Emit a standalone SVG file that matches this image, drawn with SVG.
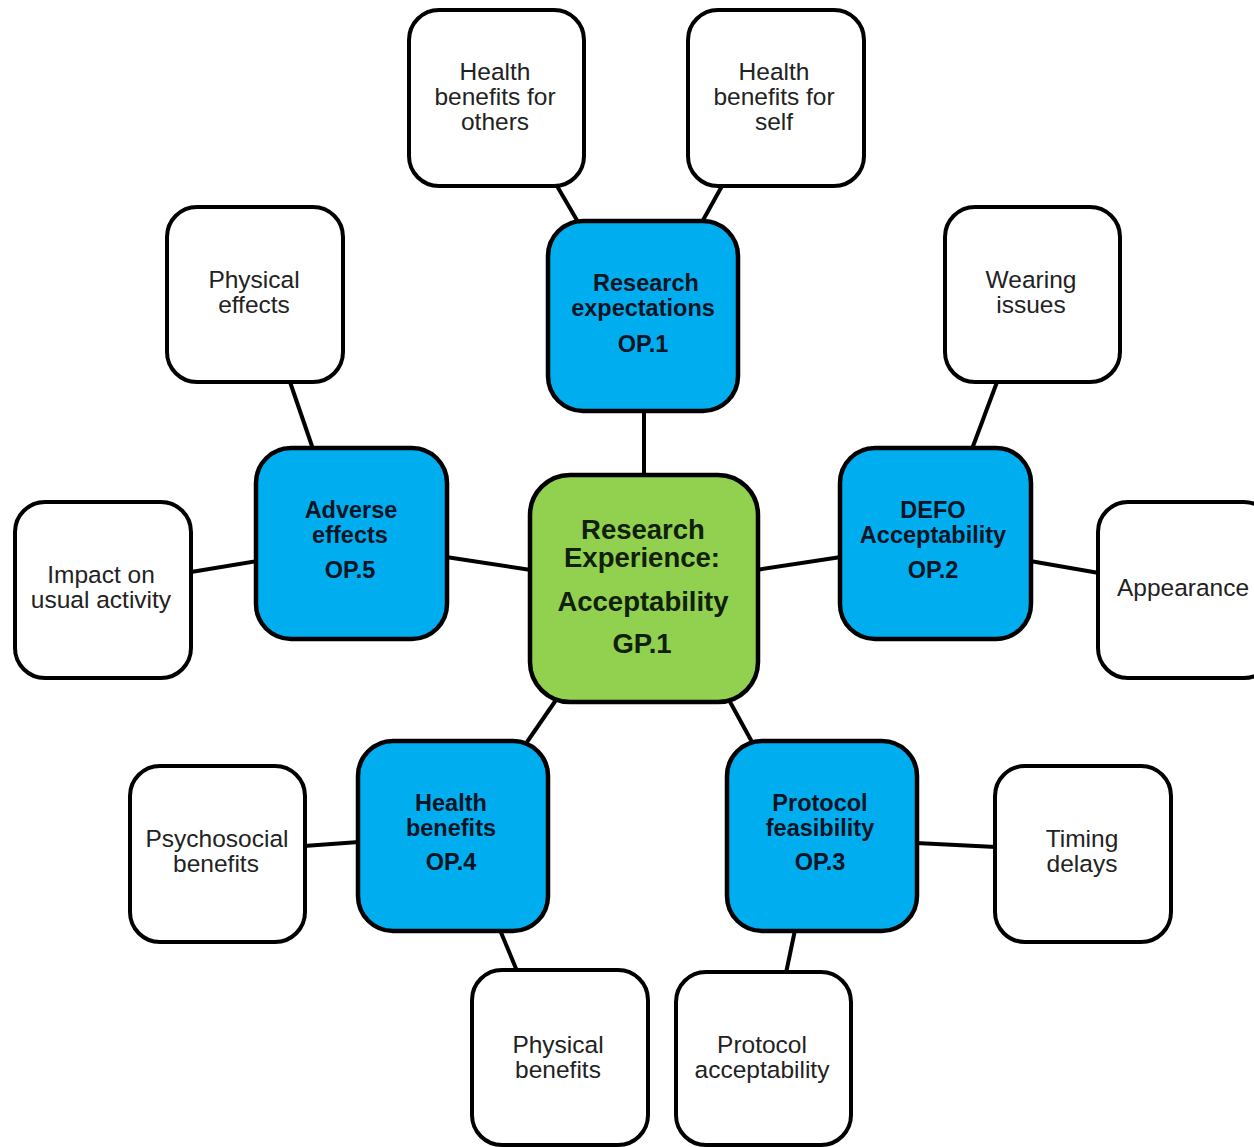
<svg xmlns="http://www.w3.org/2000/svg" width="1254" height="1147" viewBox="0 0 1254 1147">
<style>
.w{fill:#fff;stroke:#000;stroke-width:4}
.b{fill:#00AEEF;stroke:#000;stroke-width:4.5}
.g{fill:#92D050;stroke:#000;stroke-width:4.5}
.c line{stroke:#000;stroke-width:4}
.tw{font-family:"Liberation Sans",Arial,sans-serif;font-size:24.5px;fill:#222;text-anchor:middle}
.tb{font-family:"Liberation Sans",Arial,sans-serif;font-size:23.5px;font-weight:bold;fill:#0b1424;text-anchor:middle}
.tg{font-family:"Liberation Sans",Arial,sans-serif;font-size:27.5px;font-weight:bold;fill:#10200a;text-anchor:middle}
</style>
<rect width="1254" height="1147" fill="#fff"/>
<g id="connectors" class="c">
<line x1="557" y1="186" x2="578" y2="222"/>
<line x1="722" y1="186" x2="702" y2="222"/>
<line x1="644" y1="411" x2="644" y2="476"/>
<line x1="290" y1="382" x2="313" y2="449"/>
<line x1="997" y1="382" x2="972" y2="449"/>
<line x1="191" y1="572" x2="257" y2="561"/>
<line x1="446" y1="557" x2="531" y2="570"/>
<line x1="756" y1="570" x2="841" y2="557"/>
<line x1="1030" y1="561" x2="1099" y2="573"/>
<line x1="556" y1="700" x2="527" y2="742"/>
<line x1="729" y1="700" x2="752" y2="742"/>
<line x1="359" y1="842" x2="304" y2="846"/>
<line x1="500" y1="930" x2="517" y2="971"/>
<line x1="916" y1="843" x2="996" y2="847"/>
<line x1="795" y1="930" x2="786" y2="973"/>
</g>
<g id="hb-others"><rect class="w" x="409" y="10" width="175" height="176" rx="30"/>
<text class="tw" x="495" y="80">Health</text><text class="tw" x="495" y="105">benefits for</text><text class="tw" x="495" y="130">others</text></g>
<g id="hb-self"><rect class="w" x="688" y="10" width="176" height="176" rx="30"/>
<text class="tw" x="774" y="80">Health</text><text class="tw" x="774" y="105">benefits for</text><text class="tw" x="774" y="130">self</text></g>
<g id="phys-effects"><rect class="w" x="167" y="207" width="176" height="175" rx="30"/>
<text class="tw" x="254" y="288">Physical</text><text class="tw" x="254" y="313">effects</text></g>
<g id="wearing"><rect class="w" x="945" y="207" width="175" height="175" rx="30"/>
<text class="tw" x="1031" y="288">Wearing</text><text class="tw" x="1031" y="313">issues</text></g>
<g id="impact"><rect class="w" x="15" y="502" width="176" height="176" rx="30"/>
<text class="tw" x="101" y="583">Impact on</text><text class="tw" x="101" y="608">usual activity</text></g>
<g id="appearance"><rect class="w" x="1098" y="502" width="176" height="176" rx="30"/>
<text class="tw" x="1183" y="596">Appearance</text></g>
<g id="psychosocial"><rect class="w" x="130" y="766" width="175" height="176" rx="30"/>
<text class="tw" x="217" y="847">Psychosocial</text><text class="tw" x="216" y="872">benefits</text></g>
<g id="timing"><rect class="w" x="995" y="766" width="176" height="176" rx="30"/>
<text class="tw" x="1082" y="847">Timing</text><text class="tw" x="1082" y="872">delays</text></g>
<g id="phys-benefits"><rect class="w" x="472" y="970" width="176" height="175" rx="30"/>
<text class="tw" x="558" y="1053">Physical</text><text class="tw" x="558" y="1078">benefits</text></g>
<g id="protocol-acc"><rect class="w" x="676" y="972" width="175" height="173" rx="30"/>
<text class="tw" x="762" y="1053">Protocol</text><text class="tw" x="762" y="1078">acceptability</text></g>
<g id="op1"><rect class="b" x="548" y="221" width="190" height="190" rx="35"/>
<text class="tb" x="646" y="291">Research</text><text class="tb" x="643" y="316">expectations</text><text class="tb" x="643" y="352">OP.1</text></g>
<g id="op5"><rect class="b" x="256" y="448" width="191" height="191" rx="35"/>
<text class="tb" x="351" y="518">Adverse</text><text class="tb" x="350" y="543">effects</text><text class="tb" x="350" y="578">OP.5</text></g>
<g id="op2"><rect class="b" x="840" y="448" width="191" height="191" rx="35"/>
<text class="tb" x="933" y="518">DEFO</text><text class="tb" x="933" y="543">Acceptability</text><text class="tb" x="933" y="578">OP.2</text></g>
<g id="op4"><rect class="b" x="358" y="741" width="190" height="190" rx="35"/>
<text class="tb" x="451" y="811">Health</text><text class="tb" x="451" y="836">benefits</text><text class="tb" x="451" y="870">OP.4</text></g>
<g id="op3"><rect class="b" x="727" y="741" width="190" height="190" rx="35"/>
<text class="tb" x="820" y="811">Protocol</text><text class="tb" x="820" y="836">feasibility</text><text class="tb" x="820" y="870">OP.3</text></g>
<g id="gp1"><rect class="g" x="530" y="475" width="228" height="227" rx="40"/>
<text class="tg" x="643" y="539">Research</text><text class="tg" x="642" y="567">Experience:</text><text class="tg" x="643" y="611">Acceptability</text><text class="tg" x="642" y="653">GP.1</text></g>
</svg>
